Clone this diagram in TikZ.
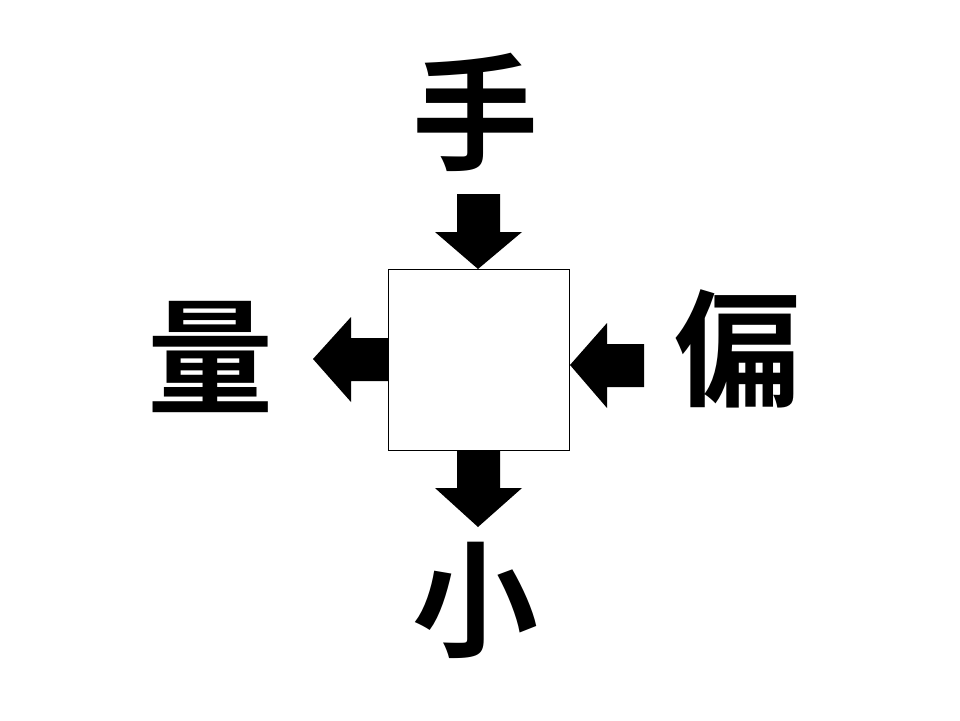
\documentclass[tikz,border=0pt]{standalone}
\usepackage{fontspec}
\newfontfamily\cjk{Noto Sans CJK JP}[BoldFont={Noto Sans CJK JP Bold}]
\begin{document}
\begin{tikzpicture}[x=1pt,y=-1pt,
  kanji/.style={font=\cjk\bfseries\fontsize{126}{126}\selectfont,inner sep=0pt,anchor=center},
  blockarrow/.style={fill=black,draw=none}]
\useasboundingbox (0,0) rectangle (960,720);
\fill[white] (0,0) rectangle (960,720);
\node[draw=black,line width=1pt,minimum width=181pt,minimum height=181pt,inner sep=0pt] (box) at (478.5,359.5) {};
\node[kanji] (top) at (475,112) {手};
\node[kanji] (left) at (210,357) {量};
\node[kanji] (right) at (737,349) {偏};
\node[kanji] (bottom) at (475,600) {小};
% top arrow (down into box)
\fill[blockarrow] (457,194) -- (500,194) -- (500,232) -- (522,232) -- (478,269) -- (435,232) -- (457,232) -- cycle;
% bottom arrow (down out of box)
\fill[blockarrow] (457,450) -- (500,450) -- (500,488) -- (522,488) -- (478,527) -- (435,488) -- (457,488) -- cycle;
% left arrow (out of box, pointing left)
\fill[blockarrow] (388,338) -- (388,381) -- (351,381) -- (351,402) -- (313,359) -- (351,317) -- (351,338) -- cycle;
% right arrow (into box, pointing left)
\fill[blockarrow] (644,344) -- (644,387) -- (607,387) -- (607,408) -- (570,365) -- (607,323) -- (607,344) -- cycle;
\end{tikzpicture}
\end{document}
